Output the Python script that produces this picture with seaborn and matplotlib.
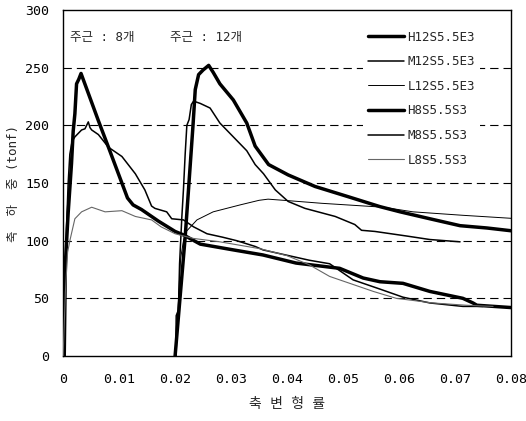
import pandas as pd
import matplotlib.pyplot as plt
import seaborn as sns

# 축 변형률 - 축하중 곡선
h12_x = [0.0200, 0.0218, 0.0232, 0.0236, 0.0242, 0.0250, 0.0260, 0.0268, 0.0280, 0.0304, 0.0328,
         0.0343, 0.0358, 0.0367, 0.0402, 0.0450, 0.0510, 0.0566, 0.0602, 0.0655, 0.0709, 0.0757, 0.0800]
h12_y = [0, 103, 200, 231, 244, 248, 252, 246, 236, 222, 202,
         182, 172, 166, 157, 147, 138, 129.5, 125, 119, 113, 111, 108.6]

m12_x = [0.0201, 0.0202, 0.0206, 0.0208, 0.0210, 0.0212, 0.0215, 0.0218, 0.0221, 0.0225, 0.0229,
         0.0233, 0.0245, 0.02625, 0.0280, 0.0304, 0.0328, 0.0343, 0.0358, 0.0379, 0.0402, 0.0432,
         0.0486, 0.0521, 0.0533, 0.0557, 0.0614, 0.0655, 0.0709]
m12_y = [0, 35, 40, 80, 100, 120, 145, 175, 200, 205, 218,
         221, 219, 215, 202, 190, 178, 166, 158, 144, 134, 128,
         121, 114, 109, 108, 104, 101, 99]

l12_x = [0.0202, 0.0206, 0.0210, 0.0215, 0.0220, 0.0239, 0.0268, 0.0316, 0.0350, 0.0366, 0.0402,
         0.0462, 0.0572, 0.0625, 0.0714, 0.0800]
l12_y = [0, 50, 85, 100, 108, 118, 125, 131, 135, 136, 134.7,
         132.4, 129, 125, 122, 119.4]

h8_x = [0.0002, 0.0004, 0.0009, 0.0015, 0.0018, 0.0021, 0.0024, 0.0028, 0.0032, 0.0063, 0.0081,
        0.0115, 0.0125, 0.0140, 0.0170, 0.0200, 0.0215, 0.0245, 0.0304, 0.0357, 0.0416, 0.0494,
        0.0536, 0.0566, 0.0607, 0.0655, 0.0714, 0.0732, 0.0739, 0.0800]
h8_y = [0, 80, 124, 167, 195, 210, 236, 240, 245, 204, 181,
        137, 131, 127, 117, 108, 105, 97, 92, 87.6, 80.6, 76,
        67.6, 64.4, 63, 56, 50, 46, 44, 42]

m8_x = [0.0001, 0.0003, 0.0006, 0.0009, 0.0012, 0.0016, 0.0021, 0.0027, 0.0033, 0.0039, 0.0042,
        0.0045, 0.0048, 0.0051, 0.0063, 0.0081, 0.0105, 0.0129, 0.0146, 0.0158, 0.0164, 0.0185,
        0.0194, 0.0215, 0.0233, 0.0257, 0.0285, 0.0310, 0.0343, 0.0357, 0.0440, 0.0476, 0.0518,
        0.0566, 0.0607, 0.0655, 0.0714, 0.0750]
m8_y = [0, 50, 110, 150, 175, 186, 190, 193, 196, 197, 200,
        203, 198, 196, 192, 181, 173, 158, 144, 130, 128, 125,
        119, 118, 112, 106, 103, 100, 95, 92, 83, 80, 66,
        58, 51, 46, 43, 43]

l8_x = [0.0000, 0.0004, 0.0008, 0.00125, 0.0021, 0.0033, 0.0051, 0.0063, 0.0075, 0.0105, 0.0129,
        0.0158, 0.0175, 0.0200, 0.0232, 0.0280, 0.0316, 0.0352, 0.0400, 0.0440, 0.0476, 0.0512,
        0.0554, 0.0595, 0.0660, 0.0720, 0.0768]
l8_y = [0, 55, 90, 101, 119, 125, 129, 127, 125, 126, 121,
        118, 112, 106, 102, 99, 96, 93, 87, 79, 69, 63,
        56, 50, 46, 44, 43]

series = [
    ('H12S5.5E3', h12_x, h12_y, 'black', 2.5),
    ('M12S5.5E3', m12_x, m12_y, 'black', 1.1),
    ('L12S5.5E3', l12_x, l12_y, 'black', 0.7),
    ('H8S5.5S3', h8_x, h8_y, 'black', 2.5),
    ('M8S5.5S3', m8_x, m8_y, 'black', 1.1),
    ('L8S5.5S3', l8_x, l8_y, '#666666', 0.8),
]

sns.set_style('white')
plt.rcParams['font.family'] = ['DejaVu Sans Mono', 'Noto Sans CJK KR']

fig = plt.figure(figsize=(5.26, 4.21), dpi=100)
ax = fig.add_axes([0.12, 0.1544, 0.8515, 0.8218])

for y in [50, 100, 150, 200, 250]:
    ax.axhline(y, color='black', lw=0.8, ls=(0, (7.5, 4.5)), zorder=1)

for name, xs, ys, c, lw in series:
    df = pd.DataFrame({'x': xs, 'y': ys})
    sns.lineplot(data=df, x='x', y='y', ax=ax, color=c, lw=lw, label=name,
                 estimator=None, sort=False, zorder=3)

ax.set_xlim(0, 0.08)
ax.set_ylim(0, 300)
ax.set_xticks([0, 0.01, 0.02, 0.03, 0.04, 0.05, 0.06, 0.07, 0.08])
ax.set_xticklabels(['0', '0.01', '0.02', '0.03', '0.04', '0.05', '0.06', '0.07', '0.08'])
ax.set_yticks([0, 50, 100, 150, 200, 250, 300])
ax.tick_params(axis='x', direction='in', length=4, width=0.8, pad=12, labelsize=9.5, colors='black')
ax.tick_params(axis='y', length=0, pad=10, labelsize=9.5, colors='black')
for s in ax.spines.values():
    s.set_color('black')
    s.set_linewidth(1.0)

ax.set_xlabel('축 변 형 률', fontsize=10, labelpad=8)
ax.set_ylabel('축  하  중 (tonf)', fontsize=9, labelpad=4)

ax.text(0.00125, 276, '주근 : 8개', fontsize=9, va='center')
ax.text(0.0191, 276, '주근 : 12개', fontsize=9, va='center')

leg = ax.legend(loc='upper left', bbox_to_anchor=(0.67, 0.955), frameon=True,
                fontsize=9, handlelength=2.9, handletextpad=0.25, labelspacing=0.93,
                borderpad=0.4, borderaxespad=0)
leg.get_frame().set_facecolor('white')
leg.get_frame().set_edgecolor('none')
leg.get_frame().set_alpha(1)
leg.set_zorder(5)

plt.savefig('out.png', dpi=100)
